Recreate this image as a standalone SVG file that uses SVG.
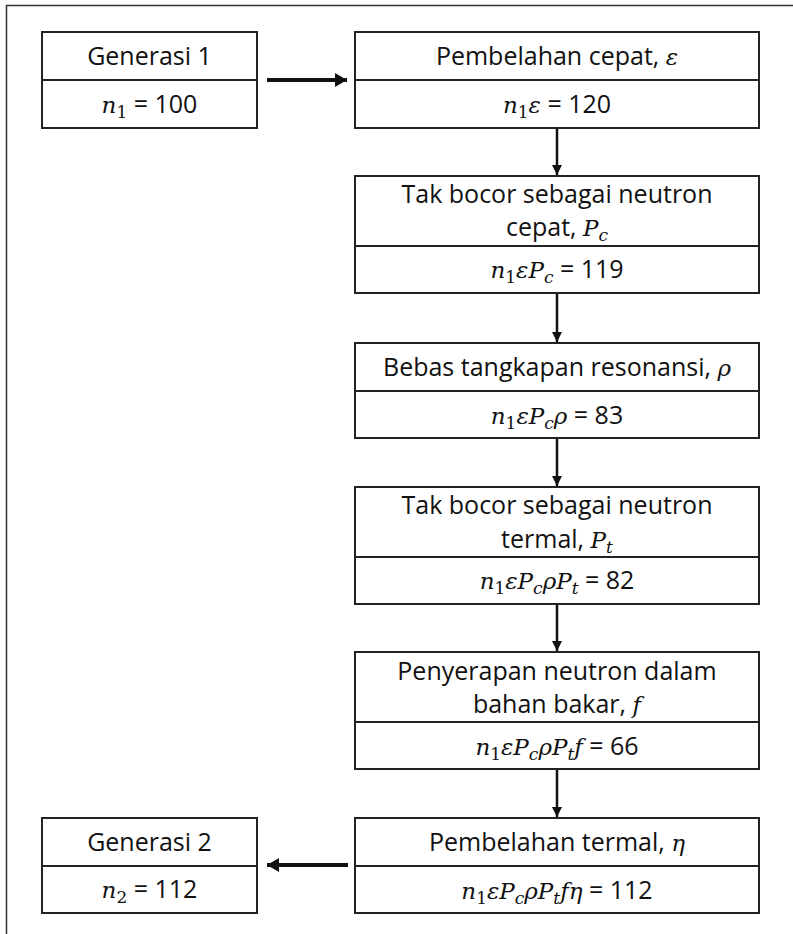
<svg xmlns="http://www.w3.org/2000/svg" width="793" height="934" viewBox="0 0 793 934">
<defs>
<style>
.box{fill:#fff;stroke:#222;stroke-width:2}
.div{stroke:#222;stroke-width:2}
.t{font-family:"Open Sans","Noto Sans",sans-serif;font-size:25px;fill:#111;text-anchor:middle}
.m{font-family:"DejaVu Serif","Liberation Serif",serif;font-style:italic;font-size:23px}
.s{font-family:"DejaVu Serif","Liberation Serif",serif;font-style:normal;font-size:17px}
.si{font-family:"DejaVu Serif","Liberation Serif",serif;font-style:italic;font-size:17px}
.conn{stroke:#111;fill:none}
</style>
<marker id="ah" viewBox="0 0 10 10" refX="10" refY="5" markerWidth="10" markerHeight="10" markerUnits="userSpaceOnUse" orient="auto">
<path d="M0,0 L10,5 L0,10 Z" fill="#111"/>
</marker>
<marker id="ahb" viewBox="0 0 12 14" refX="12" refY="7" markerWidth="12" markerHeight="14" markerUnits="userSpaceOnUse" orient="auto">
<path d="M0,0 L12,7 L0,14 Z" fill="#111"/>
</marker>
</defs>
<rect width="793" height="934" fill="#fff"/>
<path d="M6.5,934 V5.5 H793" fill="none" stroke="#333" stroke-width="1.5"/>

<g id="gen1">
<rect class="box" x="42" y="32" width="215" height="96"/>
<line class="div" x1="42" y1="80" x2="257" y2="80"/>
<text class="t" x="149.5" y="65">Generasi 1</text>
<text class="t" x="149.5" y="113"><tspan class="m">n</tspan><tspan class="s" dy="5">1</tspan><tspan dy="-5"> = 100</tspan></text>
</g>

<g id="cepat">
<rect class="box" x="355" y="32" width="404" height="96"/>
<line class="div" x1="355" y1="80" x2="759" y2="80"/>
<text class="t" x="557" y="65">Pembelahan cepat, <tspan class="m">ε</tspan></text>
<text class="t" x="557" y="113"><tspan class="m">n</tspan><tspan class="s" dy="5">1</tspan><tspan class="m" dy="-5">ε</tspan> = 120</text>
</g>

<g id="pc">
<rect class="box" x="355" y="176" width="404" height="117"/>
<line class="div" x1="355" y1="246" x2="759" y2="246"/>
<text class="t" x="557" y="203">Tak bocor sebagai neutron</text>
<text class="t" x="557" y="236">cepat, <tspan class="m">P</tspan><tspan class="si" dy="5">c</tspan></text>
<text class="t" x="557" y="278"><tspan class="m">n</tspan><tspan class="s" dy="5">1</tspan><tspan class="m" dy="-5">εP</tspan><tspan class="si" dy="5">c</tspan><tspan dy="-5"> = 119</tspan></text>
</g>

<g id="rho">
<rect class="box" x="355" y="343" width="404" height="95"/>
<line class="div" x1="355" y1="391" x2="759" y2="391"/>
<text class="t" x="557" y="376">Bebas tangkapan resonansi, <tspan class="m">ρ</tspan></text>
<text class="t" x="557" y="424"><tspan class="m">n</tspan><tspan class="s" dy="5">1</tspan><tspan class="m" dy="-5">εP</tspan><tspan class="si" dy="5">c</tspan><tspan class="m" dy="-5">ρ</tspan> = 83</text>
</g>

<g id="pt">
<rect class="box" x="355" y="487" width="404" height="117"/>
<line class="div" x1="355" y1="557" x2="759" y2="557"/>
<text class="t" x="557" y="514">Tak bocor sebagai neutron</text>
<text class="t" x="557" y="548">termal, <tspan class="m">P</tspan><tspan class="si" dy="5">t</tspan></text>
<text class="t" x="557" y="589"><tspan class="m">n</tspan><tspan class="s" dy="5">1</tspan><tspan class="m" dy="-5">εP</tspan><tspan class="si" dy="5">c</tspan><tspan class="m" dy="-5">ρP</tspan><tspan class="si" dy="5">t</tspan><tspan dy="-5"> = 82</tspan></text>
</g>

<g id="f">
<rect class="box" x="355" y="652" width="404" height="117"/>
<line class="div" x1="355" y1="722" x2="759" y2="722"/>
<text class="t" x="557" y="680">Penyerapan neutron dalam</text>
<text class="t" x="557" y="713">bahan bakar, <tspan class="m">f</tspan></text>
<text class="t" x="557" y="755"><tspan class="m">n</tspan><tspan class="s" dy="5">1</tspan><tspan class="m" dy="-5">εP</tspan><tspan class="si" dy="5">c</tspan><tspan class="m" dy="-5">ρP</tspan><tspan class="si" dy="5">t</tspan><tspan class="m" dy="-5">f</tspan> = 66</text>
</g>

<g id="eta">
<rect class="box" x="355" y="818" width="404" height="95"/>
<line class="div" x1="355" y1="866" x2="759" y2="866"/>
<text class="t" x="557" y="851">Pembelahan termal, <tspan class="m">η</tspan></text>
<text class="t" x="557" y="899"><tspan class="m">n</tspan><tspan class="s" dy="5">1</tspan><tspan class="m" dy="-5">εP</tspan><tspan class="si" dy="5">c</tspan><tspan class="m" dy="-5">ρP</tspan><tspan class="si" dy="5">t</tspan><tspan class="m" dy="-5">fη</tspan> = 112</text>
</g>

<g id="gen2">
<rect class="box" x="42" y="818" width="215" height="95"/>
<line class="div" x1="42" y1="866" x2="257" y2="866"/>
<text class="t" x="149.5" y="851">Generasi 2</text>
<text class="t" x="149.5" y="898"><tspan class="m">n</tspan><tspan class="s" dy="5">2</tspan><tspan dy="-5"> = 112</tspan></text>
</g>

<g id="connectors">
<line class="conn" x1="267" y1="80" x2="347" y2="80" stroke-width="4" marker-end="url(#ahb)"/>
<line class="conn" x1="557" y1="129" x2="557" y2="175" stroke-width="2.5" marker-end="url(#ah)"/>
<line class="conn" x1="557" y1="294" x2="557" y2="342" stroke-width="2.5" marker-end="url(#ah)"/>
<line class="conn" x1="557" y1="439" x2="557" y2="486" stroke-width="2.5" marker-end="url(#ah)"/>
<line class="conn" x1="557" y1="605" x2="557" y2="651" stroke-width="2.5" marker-end="url(#ah)"/>
<line class="conn" x1="557" y1="770" x2="557" y2="817" stroke-width="2.5" marker-end="url(#ah)"/>
<line class="conn" x1="348" y1="865" x2="267" y2="865" stroke-width="4" marker-end="url(#ahb)"/>
</g>
</svg>
